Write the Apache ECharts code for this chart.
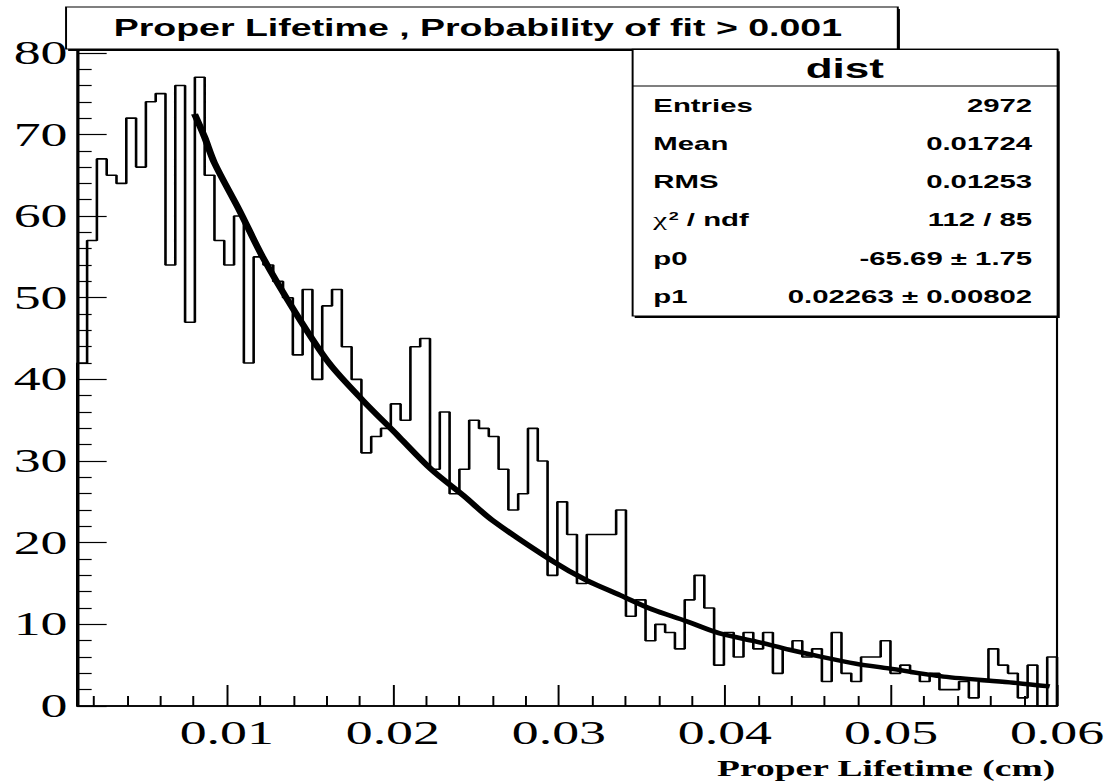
<!DOCTYPE html>
<html>
<head>
<meta charset="utf-8">
<script src="https://cdn.jsdelivr.net/npm/echarts@6/dist/echarts.min.js"></script>
<style>
html,body{margin:0;padding:0;background:#fff;overflow:hidden;}
#wrap{width:1109px;height:781px;overflow:hidden;position:relative;}
#chart{width:680px;height:781px;transform:scaleX(1.63088);transform-origin:0 0;}
</style>
</head>
<body>
<div id="wrap"><div id="chart"></div></div>
<script>
// ---- data ----
const binLow = 0.001;
const binHigh = 0.06;
const counts = [
  42,57,67,65,64,72,66,74,75,54,
  76,47,77,65,57,54,60,42,55,54,
  52,50,43,51,40,49,51,44,40,31,
  33,34,37,35,44,45,29,36,26,29,
  35,34,33,29,24,26,34,30,16,25,
  21,15,21,21,21,24,11,13,8,10,
  9,7,13,16,12,5,9,6,9,7,
  9,4,7,8,6,7,3,9,4,3,
  6,6,8,4,5,4,3,4,2,2,
  3,1,3,7,5,4,1,5,0,6
];
const fitX = [0.00806,0.00866,0.00926,0.01076,0.01216,0.01416,0.01616,0.01816,0.02036,0.02236,0.02436,0.02596,0.02966,0.03166,0.03366,0.03566,0.03766,0.03966,0.04186,0.04386,0.04586,0.04786,0.04986,0.05316,0.05716,0.05956];
const fitY = [72.5,69.7,66.5,60.7,55.0,48.1,42.0,37.5,33.0,28.9,25.6,22.8,17.7,15.4,13.6,11.8,10.4,8.9,7.9,6.9,6.0,5.2,4.6,3.6,2.9,2.4];
const xMajorTicks = [0.01,0.02,0.03,0.04,0.05,0.06];
const xMinorTicks = [0.002,0.004,0.006,0.008,0.012,0.014,0.016,0.018,0.022,0.024,0.026,0.028,0.032,0.034,0.036,0.038,0.042,0.044,0.046,0.048,0.052,0.054,0.056,0.058];
const yMajorTicks = [0,10,20,30,40,50,60,70,80];
const yMinorTicks = [2,4,6,8,12,14,16,18,22,24,26,28,32,34,36,38,42,44,46,48,52,54,56,58,62,64,66,68,72,74,76,78];
const yMin = 0, yMax = 80.4;
const titleText = 'Proper Lifetime , Probability of fit > 0.001';
const xTitle = 'Proper Lifetime (cm)';
const statsName = 'dist';
const statsLabels = ['Entries','Mean','RMS','{g|χ}{s|2}{n| / ndf}','p0','p1'];
const statsValues = ['2972','0.01724','0.01253','112 / 85','-65.69 ± 1.75','0.02263 ± 0.00802'];

// ---- build histogram outline points (bin edges) ----
const nb = counts.length;
const bw = (binHigh - binLow) / nb;
const histPts = [[binLow, 0]];
for (let i = 0; i < nb; i++) histPts.push([binLow + i * bw, counts[i]]);
histPts.push([binHigh, counts[nb - 1]]);
histPts.push([binHigh, 0]);
const fitPts = fitX.map((x, i) => [x, fitY[i]]);

const chart = echarts.init(document.getElementById('chart'), null, {renderer: 'svg'});
const sans = 'Liberation Sans, Arial, Helvetica, sans-serif';
const serif = 'Liberation Serif, Times New Roman, serif';

const rowY = [105.7, 143.3, 181.7, 220, 258.3, 296.7];
const statsGraphics = [];
statsLabels.forEach((lab, i) => {
  statsGraphics.push({
    type: 'text', x: 400.6, y: rowY[i], z: 20,
    style: {
      text: lab, fill: '#000', font: 'bold 18px ' + sans,
      textAlign: 'left', textVerticalAlign: 'middle',
      rich: {
        g: {fontFamily: serif, fontSize: 19, fontWeight: 'normal', fill: '#000'},
        s: {fontFamily: sans, fontSize: 11, fontWeight: 'bold', verticalAlign: 'top', padding: [0,0,8,1], fill: '#000'},
        n: {fontFamily: sans, fontSize: 18, fontWeight: 'bold', fill: '#000'}
      }
    }
  });
  statsGraphics.push({
    type: 'text', x: 632.9, y: rowY[i], z: 20,
    style: {
      text: statsValues[i], fill: '#000', font: 'bold 18px ' + sans,
      textAlign: 'right', textVerticalAlign: 'middle'
    }
  });
});

const option = {
  animation: false,
  backgroundColor: '#fff',
  grid: {
    left: 47.4, right: 29.6, top: 49.5, bottom: 75,
    show: true, borderColor: '#000', borderWidth: 1.3, backgroundColor: 'transparent'
  },
  xAxis: [
    {
      type: 'value', min: binLow, max: binHigh, position: 'bottom',
      axisLine: {show: true, onZero: false, lineStyle: {color: '#000', width: 1.5}},
      axisTick: {show: true, inside: true, length: 21, customValues: xMajorTicks, lineStyle: {color: '#000', width: 1.2}},
      axisLabel: {
        show: true, customValues: xMajorTicks, margin: 10,
        fontFamily: serif, fontSize: 33, color: '#000',
        formatter: v => Number(v).toFixed(2)
      },
      splitLine: {show: false}
    },
    {
      type: 'value', min: binLow, max: binHigh, position: 'bottom',
      axisLine: {show: false, onZero: false},
      axisTick: {show: true, inside: true, length: 10, customValues: xMinorTicks, lineStyle: {color: '#000', width: 1.2}},
      axisLabel: {show: false},
      splitLine: {show: false}
    }
  ],
  yAxis: [
    {
      type: 'value', min: yMin, max: yMax, position: 'left',
      axisLine: {show: true, onZero: false, lineStyle: {color: '#000', width: 1.5}},
      axisTick: {show: true, inside: true, length: 18, customValues: yMajorTicks, lineStyle: {color: '#000', width: 1.2}},
      axisLabel: {customValues: yMajorTicks, fontFamily: serif, fontSize: 33, color: '#000', margin: 6},
      splitLine: {show: false}
    },
    {
      type: 'value', min: yMin, max: yMax, position: 'left',
      axisLine: {show: false, onZero: false},
      axisTick: {show: true, inside: true, length: 8.8, customValues: yMinorTicks, lineStyle: {color: '#000', width: 1.2}},
      axisLabel: {show: false},
      splitLine: {show: false}
    }
  ],
  series: [
    {
      type: 'line', xAxisIndex: 0, yAxisIndex: 0, data: histPts, step: 'end',
      showSymbol: false, symbol: 'none', clip: false,
      lineStyle: {color: '#000', width: 1.6}, z: 3
    },
    {
      type: 'line', xAxisIndex: 0, yAxisIndex: 0, data: fitPts, smooth: 0.3,
      showSymbol: false, symbol: 'none',
      lineStyle: {color: '#000', width: 4.4}, z: 4
    }
  ],
  graphic: [
    // title pave
    {type: 'rect', z: 10, shape: {x: 41.8, y: 9, width: 510, height: 42}, style: {fill: '#000'}},
    {type: 'rect', z: 11, shape: {x: 40.5, y: 7, width: 510, height: 42}, style: {fill: '#fff', stroke: '#000', lineWidth: 1.2}},
    {type: 'text', z: 12, x: 293, y: 28.5, style: {text: titleText, fill: '#000', font: 'bold 23px ' + sans, textAlign: 'center', textVerticalAlign: 'middle'}},
    // stats box
    {type: 'rect', z: 15, shape: {x: 389.2, y: 51.3, width: 260.6, height: 266.7}, style: {fill: '#000'}},
    {type: 'rect', z: 16, shape: {x: 387.9, y: 49.3, width: 260.6, height: 266.7}, style: {fill: '#fff', stroke: '#000', lineWidth: 1.2}},
    {type: 'line', z: 17, shape: {x1: 387.9, y1: 86, x2: 648.5, y2: 86}, style: {stroke: '#000', lineWidth: 1.2}},
    {type: 'text', z: 18, x: 518, y: 68.5, style: {text: statsName, fill: '#000', font: 'bold 27px ' + sans, textAlign: 'center', textVerticalAlign: 'middle'}},
    ...statsGraphics,
    // x axis title
    {type: 'text', z: 12, x: 647, y: 768, style: {text: xTitle, fill: '#000', font: 'bold 23px ' + serif, textAlign: 'right', textVerticalAlign: 'middle'}}
  ]
};
chart.setOption(option);
</script>
</body>
</html>
